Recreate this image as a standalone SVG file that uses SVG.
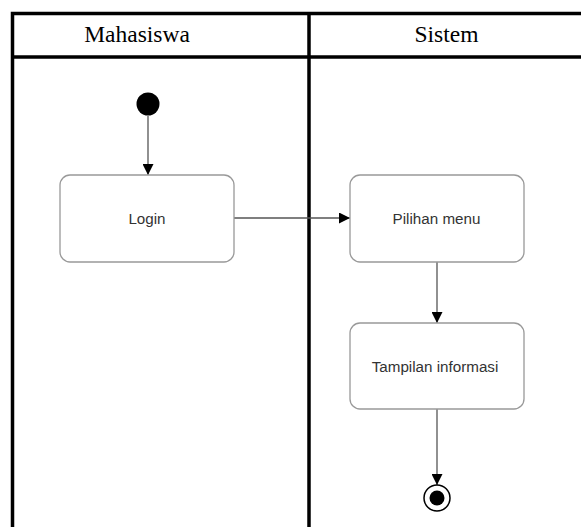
<svg xmlns="http://www.w3.org/2000/svg" width="581" height="527" viewBox="0 0 581 527">
<style>
.lane{fill:none;stroke:#000;stroke-width:3.5}
.hdr{font-family:"Liberation Serif","Times New Roman",serif;font-size:23.5px;fill:#000;text-anchor:middle}
.box{fill:#fff;stroke:#999;stroke-width:1.3}
.lbl{font-family:"Liberation Sans",Arial,sans-serif;font-size:15.2px;fill:#333;text-anchor:middle}
.edge{fill:none;stroke:#555;stroke-width:1.3}
</style>
<defs>
<marker id="arr" viewBox="0 0 10 10" refX="10" refY="5" markerWidth="11" markerHeight="11" markerUnits="userSpaceOnUse" orient="auto">
<path d="M0,0 L10,5 L0,10 z" fill="#000"/>
</marker>
</defs>
<rect width="581" height="527" fill="#fff"/>
<g id="swimlanes">
<path class="lane" d="M12.5,530 V13.5 H590"/>
<path class="lane" d="M12.5,57 H590"/>
<path class="lane" d="M309,13.5 V530"/>
<text class="hdr" x="137" y="42">Mahasiswa</text>
<text class="hdr" x="446.5" y="42">Sistem</text>
</g>
<g id="connectors">
<path class="edge" d="M148,116 V175" marker-end="url(#arr)"/>
<path class="edge" d="M234,218 H350" marker-end="url(#arr)"/>
<path class="edge" d="M437,262 V323" marker-end="url(#arr)"/>
<path class="edge" d="M437,409 V485" marker-end="url(#arr)"/>
</g>
<g id="start">
<circle cx="148" cy="104" r="11.5" fill="#000"/>
</g>
<g id="login">
<rect class="box" x="60" y="175" width="174" height="87" rx="10"/>
<text class="lbl" x="147" y="224">Login</text>
</g>
<g id="pilihan">
<rect class="box" x="350" y="175" width="174" height="87" rx="10"/>
<text class="lbl" x="436.5" y="224">Pilihan menu</text>
</g>
<g id="tampilan">
<rect class="box" x="350" y="323" width="174" height="86" rx="10"/>
<text class="lbl" x="435" y="372">Tampilan informasi</text>
</g>
<g id="end">
<circle cx="437" cy="498" r="13" fill="#fff" stroke="#000" stroke-width="1.5"/>
<circle cx="437" cy="498" r="7.5" fill="#000"/>
</g>
</svg>
